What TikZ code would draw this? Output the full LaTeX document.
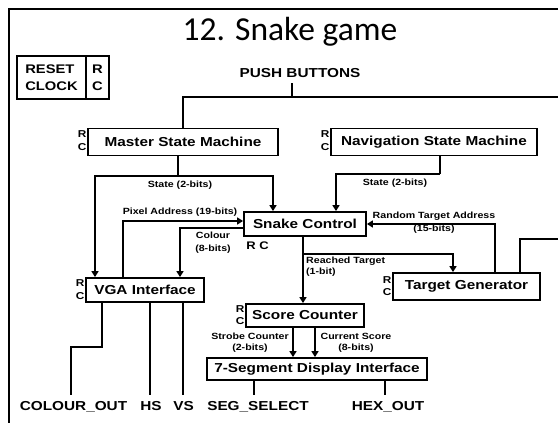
\documentclass[tikz,border=0pt]{standalone}
\usepackage{fontspec}
\newfontfamily\df[FakeStretch=1.18]{Liberation Sans}
\newfontfamily\tf{Carlito}
\usetikzlibrary{arrows.meta}
\begin{document}
\begin{tikzpicture}[x=1pt,y=-1pt,
 ln/.style={line width=1.8pt},
 arr/.style={ln,-{Triangle[length=6pt,width=7pt]}},
 blk/.style={draw,line width=1.8pt,fill=white,inner sep=0pt,font=\df\bfseries\fontsize{13}{15}\selectfont},
 big/.style={inner sep=2pt,font=\df\bfseries\fontsize{13}{15}\selectfont},
 outl/.style={big,inner ysep=5.5pt,anchor=base},
 lbl/.style={inner sep=1pt,align=center,font=\df\bfseries\fontsize{9}{11}\selectfont},
 lblw/.style={inner sep=1pt,align=center,font=\df\bfseries\fontsize{9}{13}\selectfont},
 rcl/.style={inner sep=0.5pt,align=center,font=\df\bfseries\fontsize{10}{12.5}\selectfont}
]
\useasboundingbox (0,0) rectangle (558,423);
% frame
\draw[line width=1.8pt] (9,430) -- (9,9) -- (565,9);
% title
\node[font=\tf\fontsize{33.5}{36}\selectfont,anchor=base,inner sep=0pt] (title) at (290,41) {12. Snake game};
% reset / clock
\node[blk,minimum width=69pt,minimum height=43pt,align=left,font=\df\bfseries\fontsize{12.5}{17}\selectfont] (rst) at (51.5,77.5) {RESET\\CLOCK};
\node[blk,minimum width=23pt,minimum height=43pt,align=center,font=\df\bfseries\fontsize{12.5}{17}\selectfont] (rcbox) at (97.5,77.5) {R\\C};
% push buttons
\node[big,inner ysep=5.7pt,anchor=base] (push) at (300,77.3) {PUSH BUTTONS};
% blocks
\node[blk,minimum width=190pt,minimum height=27pt] (master) at (183,142) {Master State Machine};
\node[blk,minimum width=206pt,minimum height=27pt] (nav) at (434,142) {Navigation State Machine};
\node[blk,minimum width=122pt,minimum height=24pt] (snake) at (305,224) {Snake Control};
\node[blk,minimum width=118pt,minimum height=24pt] (vga) at (145,290) {VGA Interface};
\node[blk,minimum width=147pt,minimum height=27pt] (tg) at (466.5,286.5) {Target Generator};
\node[blk,minimum width=118pt,minimum height=23pt] (sc) at (305,315.5) {Score Counter};
\node[blk,minimum width=220pt,minimum height=22pt] (seg) at (317,369) {7-Segment Display Interface};
% R C labels
\node[rcl,anchor=east] (rcM) at ([yshift=1.5pt]master.west) {R\\C};
\node[rcl,anchor=east] (rcN) at ([yshift=1.5pt]nav.west) {R\\C};
\node[rcl,anchor=east] (rcV) at ([yshift=0.5pt]vga.west) {R\\C};
\node[rcl,anchor=east] (rcT) at ([yshift=0.5pt]tg.west) {R\\C};
\node[rcl,anchor=east] (rcS2) at ([yshift=0.5pt]sc.west) {R\\C};
\node[inner sep=0pt,font=\df\bfseries\fontsize{11}{13}\selectfont] (rcS) at (257.5,246) {R C};
% outputs
\node[outl] (colout) at (73.5,410) {COLOUR\_OUT};
\node[outl] (hs) at (151,410) {HS};
\node[outl] (vs) at (183.5,410) {VS};
\node[outl] (selout) at (258,410) {SEG\_SELECT};
\node[outl] (hexout) at (388,410) {HEX\_OUT};
% labels
\node[lbl] (lstate1) at (180,185) {State (2-bits)};
\node[lbl] (lstate2) at (395,183) {State (2-bits)};
\node[lbl] (lpix) at (180,212) {Pixel Address (19-bits)};
\node[lblw] (lcol) at (213,242.5) {Colour\\(8-bits)};
\node[lblw] (lrand) at (434,222.5) {Random Target Address\\(15-bits)};
\node[lbl,align=left,anchor=west] (lreach) at (305,267) {Reached Target\\(1-bit)};
\node[lbl] (lstrobe) at (250,342.5) {Strobe Counter\\(2-bits)};
\node[lbl] (lcur) at (356,342.5) {Current Score\\(8-bits)};
% coordinates
\coordinate (pbj) at (292,97);
\coordinate (pbr) at (565,97);
\coordinate (sj) at (178,176);
\coordinate (xv1) at (95,0);
\coordinate (xs1) at (273,0);
\coordinate (nj) at (440,174);
\coordinate (xs2) at (336,0);
\coordinate (xv2) at (123,0);
\coordinate (ypx) at (0,221);
\coordinate (ycl) at (0,228);
\coordinate (xv3) at (180,0);
\coordinate (xt1) at (495,0);
\coordinate (xt2) at (520,0);
\coordinate (tgr) at (565,239);
\coordinate (xr) at (303,0);
\coordinate (rj) at (303,254);
\coordinate (xt3) at (453,0);
\coordinate (xa) at (293,0);
\coordinate (xb) at (315,0);
\coordinate (xo1) at (254,0);
\coordinate (xo2) at (385,0);
\coordinate (cb) at (102,347);
\coordinate (xc) at (71,0);
\coordinate (xh) at (150,0);
\coordinate (xvs) at (183,0);
% connectors
\draw[ln] (push.south -| pbj) -- (pbj);
\draw[ln] (pbr) -| (master.north);
\draw[ln] (master.south -| sj) -- (sj);
\draw[arr] (sj) -| (vga.north -| xv1);
\draw[arr] (sj) -| (snake.north -| xs1);
\draw[ln] (nav.south -| nj) -- (nj);
\draw[arr] (nj) -| (snake.north -| xs2);
\draw[arr] (vga.north -| xv2) |- (snake.west |- ypx);
\draw[arr] (snake.west |- ycl) -| (vga.north -| xv3);
\draw[arr] (tg.north -| xt1) |- (snake.east);
\draw[ln] (tg.north -| xt2) |- (tgr);
\draw[arr] (snake.south -| xr) -- (sc.north -| xr);
\draw[arr] (rj) -| (tg.north -| xt3);
\draw[arr] (sc.south -| xa) -- (seg.north -| xa);
\draw[arr] (sc.south -| xb) -- (seg.north -| xb);
\draw[ln] (seg.south -| xo1) -- (selout.north -| xo1);
\draw[ln] (seg.south -| xo2) -- (hexout.north -| xo2);
\draw[ln] (vga.south -| cb) -- (cb) -| (colout.north -| xc);
\draw[ln] (vga.south -| xh) -- (hs.north -| xh);
\draw[ln] (vga.south -| xvs) -- (vs.north -| xvs);
\end{tikzpicture}
\end{document}
